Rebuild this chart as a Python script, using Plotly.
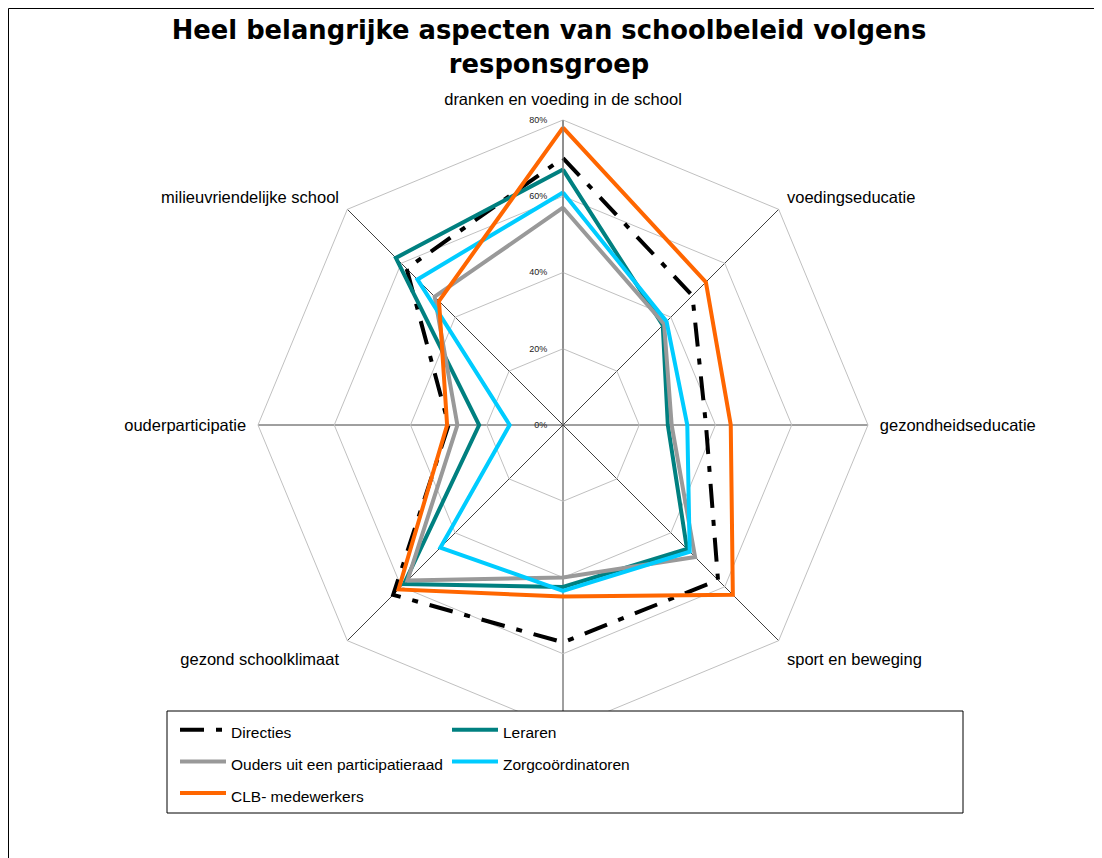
import plotly.graph_objects as go

categories = [
    "dranken en voeding in de school",
    "voedingseducatie",
    "gezondheidseducatie",
    "sport en beweging",
    "middelengebruik",
    "gezond schoolklimaat",
    "ouderparticipatie",
    "milieuvriendelijke school",
]
# the bottom axis label is hidden behind the legend in the reference
category_labels = [c if c != "middelengebruik" else "" for c in categories]

directies = [70, 48, 37.5, 57.5, 57, 63, 30, 58]
leraren = [67, 37, 27.5, 46, 42.5, 59, 22, 62]
ouders = [57, 37.5, 28.5, 49, 40, 57.7, 27.7, 47.6]
zorg = [61, 38.4, 32.6, 47, 43.5, 45.5, 14, 54]
clb = [78, 53, 44, 63, 45, 61, 30.4, 46]

series_names = ["Directies", "Leraren", "Ouders uit een participatieraad",
                "Zorgcoördinatoren", "CLB- medewerkers"]
series_values = [directies, leraren, ouders, zorg, clb]
series_colors = ["#000000", "#008080", "#999999", "#00CCFF", "#FF6600"]
series_dash = ["24px,12px,6px,12px", "solid", "solid", "solid", "solid"]

radial_ticks = [0, 20, 40, 60, 80]
radial_labels = ["0%", "20%", "40%", "60%", "80%"]

W, H = 1102, 858
OX, OY = 8, 8          # page offset of the figure (body margin)
ML, MR, MT, MB = 172, 0, 0, 0
GW, GH = W - ML - MR, H - MT - MB


def px_x(p):
    return (p - OX - ML) / GW


def px_y(p):
    return (H - MB - (p - OY)) / GH


CX, CY, R = 563, 425, 305

fig = go.Figure()
for name, vals, col, dash in zip(series_names, series_values, series_colors, series_dash):
    fig.add_trace(go.Scatterpolar(
        r=vals + vals[:1],
        theta=categories + categories[:1],
        mode="lines",
        name='<span style="font-size:15.5px">' + name + '</span>',
        line=dict(color=col, width=4, dash=dash),
        hoverinfo="skip",
    ))

fig.update_layout(
    width=W, height=H,
    margin=dict(l=ML, r=MR, t=MT, b=MB, autoexpand=False),
    paper_bgcolor="white",
    plot_bgcolor="white",
    font=dict(family="Liberation Sans, Arial, sans-serif", color="black"),
    title=dict(
        text="Heel belangrijke aspecten van schoolbeleid volgens<br>responsgroep",
        font=dict(family="DejaVu Sans, Verdana, sans-serif", size=25.8, color="black", weight="bold"),
        x=541 / W, xref="container", xanchor="center",
        y=1 - 31 / H, yref="container", yanchor="top",
    ),
    polar=dict(
        domain=dict(x=[px_x(CX - R), px_x(CX + R)], y=[px_y(CY + R), px_y(CY - R)]),
        gridshape="linear",
        bgcolor="white",
        radialaxis=dict(
            range=[0, 80],
            tickmode="array",
            tickvals=radial_ticks,
            ticktext=radial_labels,
            angle=90,
            side="counterclockwise",
            tickangle=90,
            showline=True,
            linecolor="#808080",
            linewidth=1,
            gridcolor="#C0C0C0",
            gridwidth=1,
            ticks="outside",
            ticklen=12,
            tickcolor="rgba(0,0,0,0)",
            tickfont=dict(size=9, color="#222222"),
        ),
        angularaxis=dict(
            rotation=90,
            direction="clockwise",
            tickmode="array",
            tickvals=categories,
            ticktext=category_labels,
            showline=True,
            linecolor="#C0C0C0",
            linewidth=1,
            gridcolor="#404040",
            gridwidth=1,
            ticks="outside",
            ticklen=8,
            tickcolor="rgba(0,0,0,0)",
            tickfont=dict(size=16.5, color="black"),
        ),
    ),
    showlegend=True,
    legend=dict(
        orientation="h",
        x=px_x(175), xanchor="left",
        y=px_y(709), yanchor="top",
        bgcolor="rgba(0,0,0,0)",
        borderwidth=0,
        entrywidth=211,
        itemwidth=46,
        font=dict(family="Liberation Sans, Arial, sans-serif", size=22, color="black"),
        traceorder="normal",
    ),
    shapes=[
        dict(type="rect", xref="paper", yref="paper",
             x0=px_x(8.5), x1=px_x(1300), y0=px_y(1000), y1=px_y(8.5),
             line=dict(color="black", width=1), fillcolor="rgba(0,0,0,0)", layer="above"),
        dict(type="rect", xref="paper", yref="paper",
             x0=px_x(167), x1=px_x(963), y0=px_y(813), y1=px_y(711),
             line=dict(color="black", width=1), fillcolor="white", layer="above"),
    ],
)

fig.write_html("out.html")
